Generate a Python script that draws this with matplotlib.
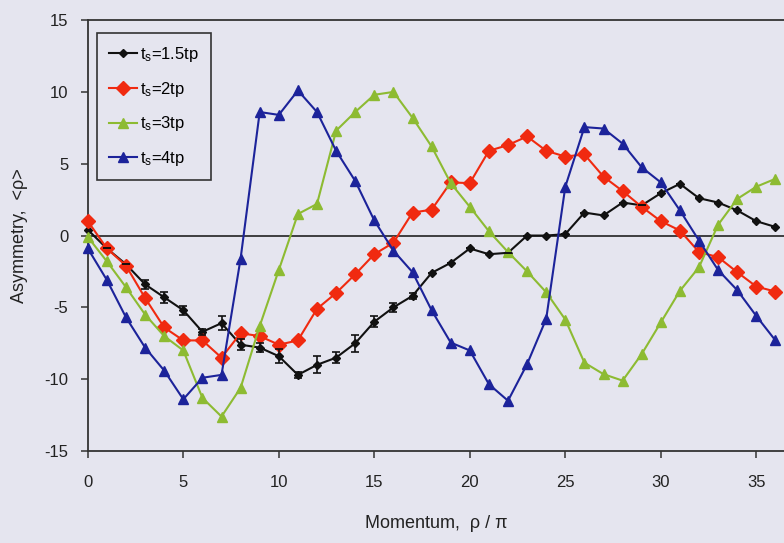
import numpy as np
import matplotlib
matplotlib.use("Agg")
import matplotlib.pyplot as plt

plt.rcParams['font.family'] = ['Liberation Sans', 'DejaVu Sans']
plt.rcParams['mathtext.default'] = 'regular'
plt.rcParams['axes.unicode_minus'] = False

momentum = list(range(37))

asym_15tp = [0.4, -0.9, -2.0, -3.4, -4.3, -5.2, -6.7, -6.1, -7.6, -7.8,
             -8.4, -9.7, -9.0, -8.5, -7.5, -6.0, -5.0, -4.2, -2.6, -1.9,
             -0.9, -1.3, -1.2, 0.0, 0.0, 0.1, 1.6, 1.4, 2.3, 2.1,
             2.95, 3.6, 2.6, 2.3, 1.75, 1.0, 0.6]
err_15tp = [0, 0, 0, 0.3, 0.4, 0.3, 0.2, 0.5, 0.4, 0.3,
            0.5, 0.2, 0.6, 0.4, 0.6, 0.4, 0.3, 0.2, 0, 0,
            0, 0, 0, 0, 0, 0, 0, 0, 0, 0,
            0, 0, 0, 0, 0, 0, 0]

asym_2tp = [1.0, -0.9, -2.1, -4.35, -6.4, -7.3, -7.3, -8.5, -6.8, -7.0,
            -7.6, -7.3, -5.1, -4.0, -2.7, -1.3, -0.5, 1.6, 1.8, 3.7,
            3.65, 5.9, 6.3, 6.9, 5.9, 5.5, 5.65, 4.1, 3.1, 2.0,
            1.0, 0.35, -1.15, -1.5, -2.55, -3.55, -3.9]

asym_3tp = [-0.1, -1.8, -3.6, -5.5, -7.0, -8.0, -11.3, -12.6, -10.6, -6.3,
            -2.4, 1.5, 2.2, 7.3, 8.6, 9.8, 10.0, 8.2, 6.2, 3.65,
            2.0, 0.3, -1.15, -2.5, -3.95, -5.85, -8.85, -9.65, -10.1, -8.25,
            -6.05, -3.85, -2.2, 0.75, 2.55, 3.4, 3.95]

asym_4tp = [-0.9, -3.1, -5.7, -7.8, -9.4, -11.4, -9.9, -9.7, -1.6, 8.6,
            8.4, 10.1, 8.6, 5.9, 3.8, 1.05, -1.05, -2.55, -5.2, -7.45,
            -8.0, -10.35, -11.5, -8.95, -5.8, 3.4, 7.55, 7.45, 6.4, 4.75,
            3.7, 1.75, -0.35, -2.4, -3.8, -5.6, -7.3]

labels = ['t$_s$=1.5tp', 't$_s$=2tp', 't$_s$=3tp', 't$_s$=4tp']
colors = ['#111111', '#f02a10', '#8dbb32', '#1c239a']
markers = ['D', 'D', '^', '^']
msizes = [4.5, 7.5, 7.5, 7.5]

bg = '#e5e5ef'
fig = plt.figure(figsize=(7.84, 5.43), dpi=100, facecolor=bg)
ax = fig.add_axes([0.112, 0.1694, 0.888, 0.7936], facecolor=bg)

series = [asym_15tp, asym_2tp, asym_3tp, asym_4tp]
for vals, lab, c, m, ms in zip(series, labels, colors, markers, msizes):
    ax.plot(momentum, vals, color=c, marker=m, markersize=ms, lw=1.5,
            label=lab, clip_on=False, zorder=3)

ax.errorbar(momentum, asym_15tp, yerr=err_15tp, fmt='none', ecolor='#111111',
            elinewidth=1.2, capsize=3, capthick=1.2, zorder=4)

ax.axhline(0, color='#222222', lw=1.2, zorder=2)

ax.set_xlim(0, 36.45)
ax.set_ylim(-15, 15)
ax.set_xticks([0, 5, 10, 15, 20, 25, 30, 35])
ax.set_yticks([-15, -10, -5, 0, 5, 10, 15])

for side in ['left', 'bottom', 'top']:
    ax.spines[side].set_color('#333333')
    ax.spines[side].set_linewidth(1.3)
ax.spines['right'].set_visible(False)

ax.tick_params(axis='both', direction='out', length=5, width=1.1,
               color='#333333', labelsize=12, labelcolor='#222222')
ax.tick_params(axis='x', pad=12)
ax.tick_params(axis='y', pad=9)

ax.set_xlabel('Momentum,  ρ / π', fontsize=13, color='#222222', labelpad=18)
ax.set_ylabel('Asymmetry,  <ρ>', fontsize=13, color='#222222', labelpad=12)

leg = ax.legend(loc='upper left', bbox_to_anchor=(0.013, 0.97), fontsize=12,
                frameon=True, fancybox=False, edgecolor='#333333',
                facecolor=bg, framealpha=1, handlelength=1.7,
                handletextpad=0.2, labelspacing=0.95, borderpad=0.7,
                borderaxespad=0)
leg.get_frame().set_linewidth(1.2)

fig.savefig('out.png', dpi=100, facecolor=bg)
